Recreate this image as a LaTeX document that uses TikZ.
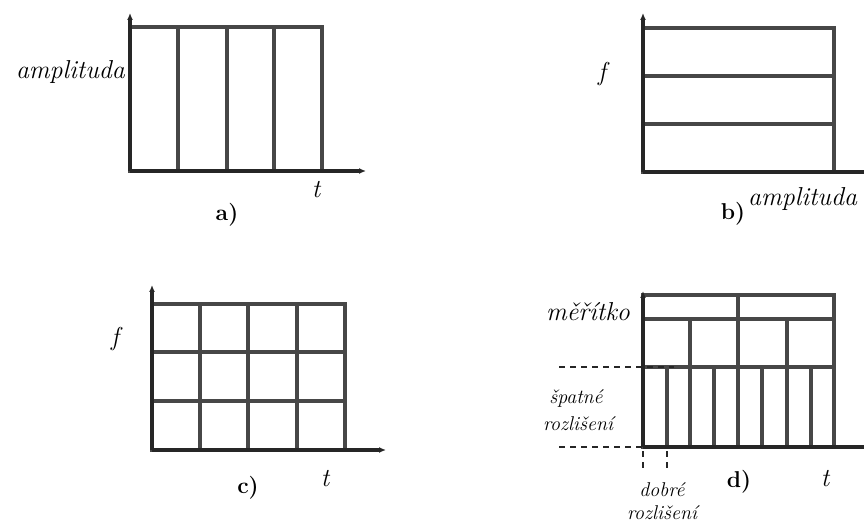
\documentclass[tikz,border=0pt]{standalone}
\usetikzlibrary{arrows.meta}
\begin{document}
\begin{tikzpicture}[x=1bp,y=-1bp,
  gridline/.style={draw=black!72,line width=3.2bp},
  axisline/.style={draw=black!85,line width=3.4bp,-{Latex[length=7bp,width=6bp]}},
  dashline/.style={draw=black!85,line width=2bp,dash pattern=on 6bp off 5bp},
  lab/.style={font=\fontsize{26}{30}\selectfont\itshape,inner sep=0pt},
  smalllab/.style={font=\fontsize{20}{24}\selectfont\itshape,inner sep=0pt},
  caption/.style={font=\fontsize{23}{27}\selectfont\bfseries,inner sep=0pt}]
\useasboundingbox (0,0) rectangle (864,525);
% ---------- a)
\coordinate (aO) at (130,171);
\coordinate (aY) at (130,13);
\coordinate (aX) at (366,171);
\draw[gridline] (aO) rectangle (322,27);
\foreach \x in {178,227,274} \draw[gridline] (\x,27) -- (\x,171);
\draw[axisline] (aO) -- (aY);
\draw[axisline] (aO) -- (aX);
\node[lab,anchor=east] (aA) at (125,72) {amplituda};
\node[lab] (aT) at (316,190) {t};
\node[caption] (aC) at (227,215) {a)};
% ---------- b)
\coordinate (bO) at (643,172);
\coordinate (bY) at (643,13);
\coordinate (bX) at (872,172);
\draw[gridline] (bO) rectangle (834,28);
\foreach \y in {76,124} \draw[gridline] (643,\y) -- (834,\y);
\draw[axisline] (bO) -- (bY);
\draw[axisline] (bO) -- (bX);
\node[lab] (bF) at (602,74) {f};
\node[lab,anchor=west] (bA) at (748,199) {amplituda};
\node[caption] (bC) at (733,214) {b)};
% ---------- c)
\coordinate (cO) at (152,450);
\coordinate (cY) at (152,285);
\coordinate (cX) at (386,450);
\draw[gridline] (cO) rectangle (345,304);
\foreach \y in {352,401} \draw[gridline] (152,\y) -- (345,\y);
\foreach \x in {200,248,297} \draw[gridline] (\x,304) -- (\x,450);
\draw[axisline] (cO) -- (cY);
\draw[axisline] (cO) -- (cX);
\node[lab] (cF) at (115,339) {f};
\node[lab] (cT) at (325,479) {t};
\node[caption] (cC) at (248,488) {c)};
% ---------- d)
\coordinate (dO) at (643,447);
\coordinate (dY) at (643,291);
\coordinate (dX) at (872,447);
\draw[gridline] (dO) rectangle (834,295);
\draw[gridline] (643,319) -- (834,319);
\draw[gridline] (643,367) -- (834,367);
\draw[gridline] (738,295) -- (738,447);
\foreach \x in {690,787} \draw[gridline] (\x,319) -- (\x,447);
\foreach \x in {667,714,762,811} \draw[gridline] (\x,367) -- (\x,447);
\draw[axisline] (dO) -- (dY);
\draw[axisline] (dO) -- (dX);
\coordinate (dL1) at (559,367);
\coordinate (dR1) at (674,367);
\coordinate (dL2) at (559,447);
\coordinate (dR2) at (679,447);
\draw[dashline] (dL1) -- (dR1);
\draw[dashline] (dL2) -- (dR2);
\coordinate (dT1a) at (643,451);
\coordinate (dT1b) at (643,471);
\coordinate (dT2a) at (667,451);
\coordinate (dT2b) at (667,471);
\draw[dashline] (dT1a) -- (dT1b);
\draw[dashline] (dT2a) -- (dT2b);
\node[lab] (dM) at (588,312) {měřítko};
\node[smalllab] (dS1) at (576,398) {špatné};
\node[smalllab] (dS2) at (578,424) {rozlišení};
\node[smalllab] (dD1) at (662,490) {dobré};
\node[smalllab] (dD2) at (662,513) {rozlišení};
\node[caption] (dC) at (739,482) {d)};
\node[lab] (dT) at (825,479) {t};
\end{tikzpicture}
\end{document}
